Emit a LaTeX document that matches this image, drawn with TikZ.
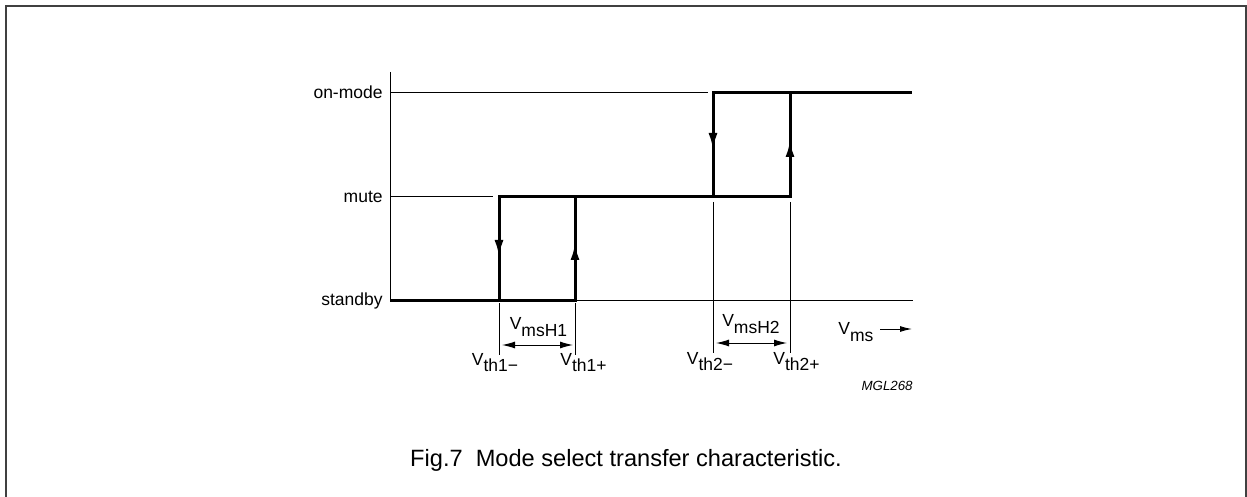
\documentclass[tikz,border=0pt]{standalone}
\usepackage{fontspec}
\setmainfont{Liberation Sans}
\usetikzlibrary{arrows.meta}
\newcommand{\lowsub}[1]{\raisebox{-3.3pt}{#1}}

\begin{document}
\begin{tikzpicture}[x=0.5pt, y=-0.5pt,
    thin line/.style={line width=0.5pt},
    thick line/.style={line width=1.5pt},
    label/.style={inner sep=0pt, font=\fontsize{8.75}{10}\selectfont},
    flow/.style={line width=1.5pt, -{Latex[length=8.5pt,width=4.5pt]}},
    span/.style={line width=0.5pt, {Latex[length=6.5pt,width=3.5pt]}-{Latex[length=6.5pt,width=3.5pt]}}]
    \useasboundingbox (0,0) rectangle (1247,497);

    % Frame, open at the bottom
    \draw[line width=1pt, black!75] (5.5,497) -- (5.5,6) -- (1246,6) -- (1246,497);

    % Vertical axis and level lines
    \draw[thin line] (390,72) -- (390,300);
    \draw[thin line] (390,93) -- (708,93);
    \draw[thin line] (390,197) -- (493,197);
    \draw[thin line] (575,300) -- (913,300);

    % Mode levels
    \node[label, anchor=mid east] (onmode) at (383,93) {on-mode};
    \node[label, anchor=mid east] (mute) at (383,197) {mute};
    \node[label, anchor=mid east] (standby) at (383,300) {standby};

    % Transfer characteristic with hysteresis
    \draw[thick line] (390,300) -- (575,300) -- (575,197);
    \draw[thick line] (499,300) -- (499,197) -- (790,197) -- (790,93) -- (912,93);
    \draw[thick line] (713,197) -- (713,93) -- (790,93);

    % Direction of the steps
    \draw[flow] (499,238) -- (499,257);
    \draw[flow] (575,262) -- (575,243);
    \draw[flow] (713,131) -- (713,150);
    \draw[flow] (790,159) -- (790,140);

    % Threshold markers
    \draw[thin line] (499,303) -- (499,355);
    \draw[thin line] (575,303) -- (575,355);
    \draw[thin line] (713,202) -- (713,353);
    \draw[thin line] (790,202) -- (790,353);

    % Hysteresis widths
    \draw[span] (502,345) -- (573,345);
    \draw[span] (716,343) -- (787,343);
    \node[label, anchor=base] (hyst1) at (538.5,329.5) {V\lowsub{msH1}};
    \node[label, anchor=base] (hyst2) at (751,327) {V\lowsub{msH2}};

    % Threshold labels
    \node[label, anchor=base] (th1m) at (495,365) {V\lowsub{th1−}};
    \node[label, anchor=base] (th1p) at (583.5,365) {V\lowsub{th1+}};
    \node[label, anchor=base] (th2m) at (710,364) {V\lowsub{th2−}};
    \node[label, anchor=base] (th2p) at (796.5,364) {V\lowsub{th2+}};

    % Input voltage axis
    \node[label, anchor=base west] (vms) at (838,335) {V\lowsub{ms}};
    \draw[line width=0.5pt, -{Latex[length=6pt,width=3pt]}] (880,329) -- (912,329);

    \node[inner sep=0pt, anchor=base east, font=\fontsize{6.65}{8}\selectfont\itshape] (code) at (913,390) {MGL268};

    \node[inner sep=0pt, anchor=base, font=\fontsize{11.8}{14}\selectfont] (caption) at (626,466) {Fig.7\ \ Mode select transfer characteristic.};
\end{tikzpicture}
\end{document}
